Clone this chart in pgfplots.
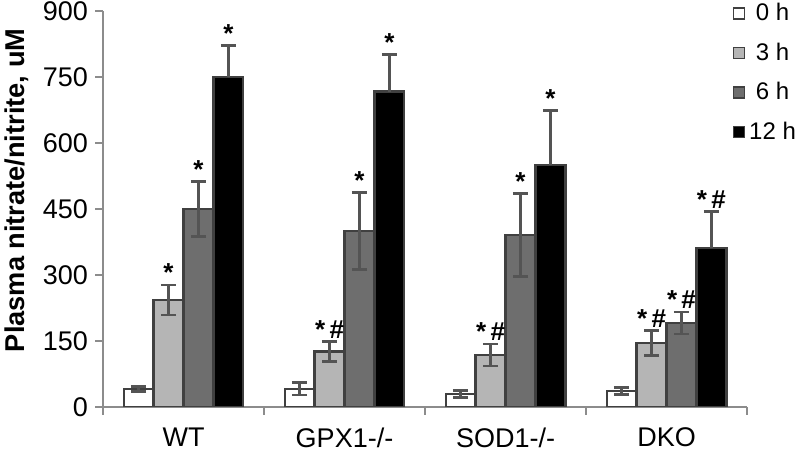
\documentclass[border=0pt]{standalone}
\usepackage{pgfplots}
\usepackage{pgfplotstable}
\pgfplotsset{compat=1.18}
\usepackage{fontspec}
\setmainfont{Liberation Sans}

\definecolor{lgrey}{gray}{0.71}
\definecolor{dgrey}{gray}{0.43}
\definecolor{edge}{gray}{0.25}
\definecolor{errc}{gray}{0.33}
\definecolor{axc}{gray}{0.55}

\def\sA{*}
\def\sB{*\,\#}

% x = group centre, y = mean, e = error
\pgfplotstableread{
x y e
0.5 41 5
1.5 41 14
2.5 30 8
3.5 36 8
}\tzero
\pgfplotstableread{
x y e
0.5 243 34
1.5 126 22
2.5 118 25
3.5 145 28
}\tthree
\pgfplotstableread{
x y e
0.5 450 62
1.5 400 88
2.5 391 95
3.5 191 25
}\tsix
\pgfplotstableread{
x y e
0.5 750 72
1.5 717 84
2.5 550 123
3.5 362 83
}\ttwelve

\begin{document}
\begin{tikzpicture}
\begin{axis}[
    scale only axis,
    width=322pt, height=198pt,
    ybar, bar width=0.186,
    xmin=0, xmax=4, ymin=0, ymax=900,
    ytick={0,150,...,900},
    xtick={0,1,2,3,4}, xticklabels={},
    extra x ticks={0.5,1.5,2.5,3.5},
    extra x tick labels={WT,GPX1-/-,SOD1-/-,DKO},
    extra x tick style={major tick length=0pt,
        xticklabel style={yshift=-7pt}},
    axis x line*=bottom, axis y line*=left,
    axis line style={axc, line width=0.6pt},
    tick style={axc, line width=0.6pt},
    tick align=outside,
    major tick length=4pt,
    /pgf/number format/assume math mode=true,
    ticklabel style={font=\fontsize{13.5}{15}\selectfont, black},
    ylabel={\bfseries Plasma nitrate/nitrite, uM},
    ylabel style={font=\fontsize{13.6}{15}\selectfont, at={(ticklabel cs:0.547)}},
    legend style={at={(rel axis cs:0.977,1.03)}, anchor=north west,
        draw=none, fill=none, font=\fontsize{12}{13}\selectfont,
        row sep=5.5pt, inner sep=0pt},
    legend image code/.code={\draw[#1, line width=0.8pt] (0pt,-2.75pt) rectangle (5.5pt,2.75pt);},
    every axis plot/.append style={draw=edge, line width=1.1pt},
    error bars/error bar style={errc, line width=1.4pt},
    error bars/error mark options={rotate=90, errc, mark size=3.8pt, line width=1.4pt},
    nodes near coords style={font=\bfseries\fontsize{13}{13}\selectfont, anchor=south, inner sep=1pt, black},
]
\addplot[fill=white, bar shift=-0.279,
    error bars/.cd, y dir=both, y explicit]
    table[x=x, y=y, y error=e] {\tzero};
\addlegendentry{0 h}
\addplot[fill=lgrey, bar shift=-0.093,
    error bars/.cd, y dir=both, y explicit]
    table[x=x, y=y, y error=e] {\tthree};
\addlegendentry{3 h}
\addplot[fill=dgrey, bar shift=0.093,
    error bars/.cd, y dir=both, y explicit]
    table[x=x, y=y, y error=e] {\tsix};
\addlegendentry{6 h}
\addplot[fill=black, bar shift=0.279,
    error bars/.cd, y dir=plus, y explicit]
    table[x=x, y=y, y error=e] {\ttwelve};
\addlegendentry{12 h}

% significance marks, at the top of each error bar
\addplot[draw=none, fill=none, bar shift=-0.093, forget plot,
    nodes near coords, point meta=explicit symbolic]
    coordinates {(0.5,277)[\sA] (1.5,148)[\sB] (2.5,143)[\sB] (3.5,173)[\sB]};
\addplot[draw=none, fill=none, bar shift=0.093, forget plot,
    nodes near coords, point meta=explicit symbolic]
    coordinates {(0.5,512)[\sA] (1.5,488)[\sA] (2.5,486)[\sA] (3.5,216)[\sB]};
\addplot[draw=none, fill=none, bar shift=0.279, forget plot,
    nodes near coords, point meta=explicit symbolic]
    coordinates {(0.5,822)[\sA] (1.5,801)[\sA] (2.5,673)[\sA] (3.5,445)[\sB]};
\end{axis}
\pgfresetboundingbox
\path[use as bounding box] ([xshift=-51.5pt,yshift=-22.5pt]current axis.south west)
    rectangle ([xshift=26.5pt,yshift=5.5pt]current axis.north east);
\end{tikzpicture}
\end{document}
